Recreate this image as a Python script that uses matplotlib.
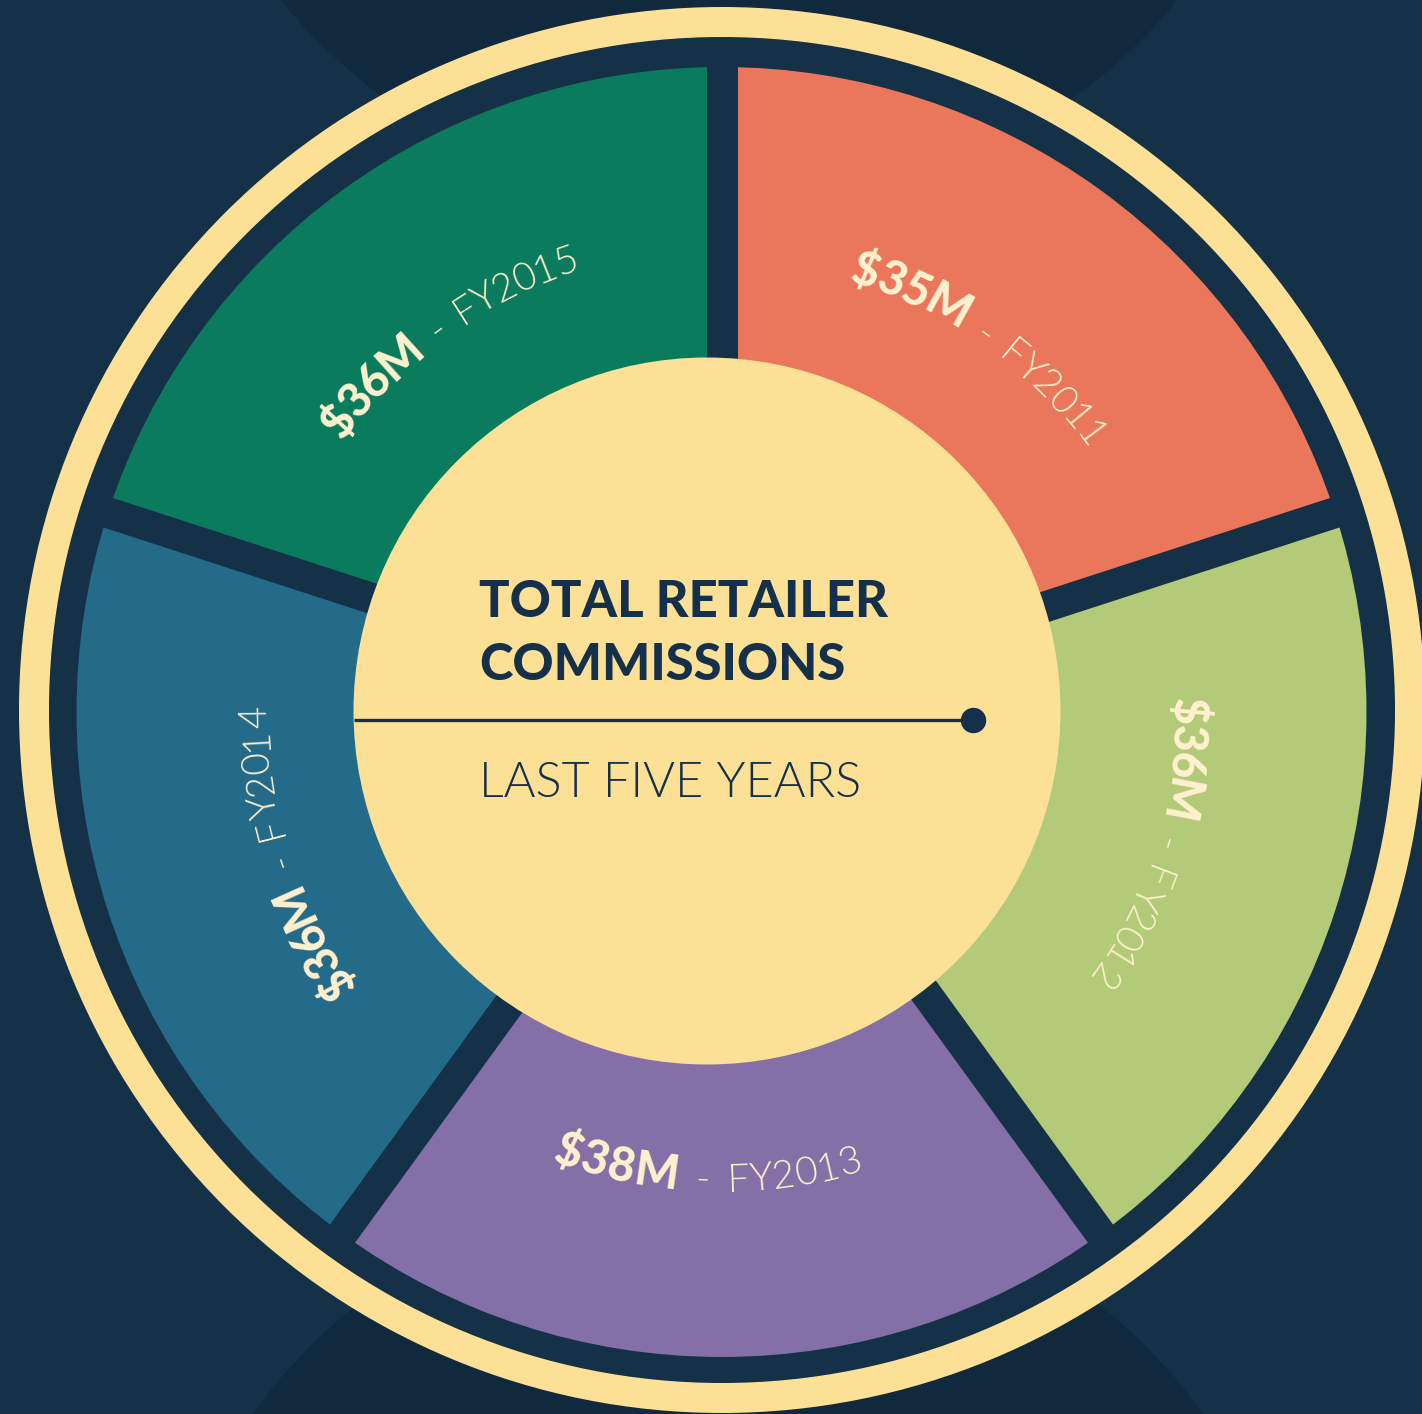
import numpy as np
import matplotlib
matplotlib.use("Agg")
import matplotlib.pyplot as plt
from matplotlib.patches import Circle
from matplotlib.font_manager import FontProperties, findfont, get_font

# ---------------- data ----------------
years = ["FY2011", "FY2012", "FY2013", "FY2014", "FY2015"]
values = [35, 36, 38, 36, 36]          # $M commissions
seg_colors = ["#EA775B", "#B3CA78", "#846FA6", "#246B8A", "#0B7B5E"]
title_lines = ["TOTAL RETAILER", "COMMISSIONS"]
subtitle = "LAST FIVE YEARS"

# ---------------- style ----------------
W, H, DPI = 1422, 1414, 100
BG = "#143148"
BG_DARK = "#10293D"
YEL = "#FCE096"
CREAM = "#FFF1CF"
NAVY = "#15304A"

def Y(y):  # image row -> data y
    return H - y

fig = plt.figure(figsize=(W / DPI, H / DPI), dpi=DPI)
fig.patch.set_facecolor(BG)
ax = fig.add_axes([0, 0, 1, 1])
ax.set_facecolor(BG)

# darker background lenses (top & bottom)
ax.add_patch(Circle((729, Y(-372)), 583, color=BG_DARK, zorder=1, lw=0))
ax.add_patch(Circle((728, Y(1763)), 590, color=BG_DARK, zorder=1, lw=0))

# outer yellow ring
ring_c = (722, Y(710))
ax.add_patch(Circle(ring_c, 703, color=YEL, zorder=2, lw=0))
ax.add_patch(Circle(ring_c, 673, color=BG, zorder=3, lw=0))

# donut segments (equal slices)
seg_c = (721.5, Y(712))
R_SEG = 645
wedges, _ = ax.pie([1] * len(years), colors=seg_colors, startangle=90,
                   counterclock=False, radius=R_SEG, center=seg_c,
                   wedgeprops=dict(linewidth=0))
for w in wedges:
    w.set_zorder(4)

# radial gaps between segments
n = len(years)
gap_px = 31
for i in range(n):
    ang = np.deg2rad(90 - 360.0 / n * i)
    ax.plot([seg_c[0], seg_c[0] + 668 * np.cos(ang)],
            [seg_c[1], seg_c[1] + 668 * np.sin(ang)],
            color=BG, lw=gap_px * 72 / DPI, solid_capstyle="butt", zorder=5)

# inner yellow disc
inner_c = (707, Y(711))
ax.add_patch(Circle(inner_c, 353.5, color=YEL, zorder=6, lw=0))

# centre text
fp_title = FontProperties(family=["Lato", "DejaVu Sans"], weight=900, size=36.5)
fp_sub = FontProperties(family=["Lato", "DejaVu Sans"], weight=300, size=35)
ax.text(479, Y(617), title_lines[0], fontproperties=fp_title, color=NAVY,
        ha="left", va="baseline", zorder=8)
ax.text(479, Y(680), title_lines[1], fontproperties=fp_title, color=NAVY,
        ha="left", va="baseline", zorder=8)
ax.text(479, Y(797), subtitle, fontproperties=fp_sub, color=NAVY,
        ha="left", va="baseline", zorder=8)
ax.plot([354, 973], [Y(720), Y(720)], color=NAVY, lw=3.3 * 72 / DPI,
        solid_capstyle="butt", zorder=7)
ax.plot([973], [Y(720)], "o", color=NAVY, ms=24 * 72 / DPI, zorder=7)

# curved labels
fp_val = FontProperties(family=["Lato", "DejaVu Sans"], weight=900, size=33.5)
fp_year = FontProperties(family=["Lato", "DejaVu Sans"], weight=300, size=28)

def adv(ch, fp):
    f = get_font(findfont(fp))
    f.set_size(fp.get_size_in_points(), 72)
    g = f.load_char(ord(ch))
    return g.linearHoriAdvance / 65536.0 * DPI / 72.0

def arc_label(pieces, mid_deg, r_mid, cw, color):
    chars = []
    pos = 0.0
    for k, (text, fp, gap) in enumerate(pieces):
        for ch in text:
            a = adv(ch, fp)
            chars.append((ch, fp, pos + a / 2))
            pos += a
        if k < len(pieces) - 1:
            pos += gap
    total = pos
    cap = fp_val.get_size_in_points() * DPI / 72 * 0.72
    off = cap / 2
    for ch, fp, c in chars:
        d = c - total / 2
        if cw:
            th = mid_deg - np.rad2deg(d / r_mid)
            rot = th - 90
            rb = r_mid - off
        else:
            th = mid_deg + np.rad2deg(d / r_mid)
            rot = th + 90
            rb = r_mid + off
        t = np.deg2rad(th)
        ax.text(seg_c[0] + rb * np.cos(t), seg_c[1] + rb * np.sin(t), ch,
                fontproperties=fp, rotation=rot, rotation_mode="anchor",
                ha="center", va="baseline", color=color, zorder=9)

label_shift = [0.5, 0.8, -1.7, 0.0, 0.0]   # small angular nudges (deg)
label_r = [466, 468, 463, 472, 482]
for i, (yr, v) in enumerate(zip(years, values)):
    mid = 90 - 360.0 / n * (i + 0.5) + label_shift[i]
    cw = not (-135 < mid < -45)
    pieces = [(f"${v}M", fp_val, 17), ("-", fp_year, 17), (yr, fp_year, 0)]
    arc_label(pieces, mid, label_r[i], cw, CREAM)

ax.set_xlim(0, W)
ax.set_ylim(0, H)
ax.set_aspect("auto")
ax.axis("off")
fig.savefig("out.png", dpi=DPI, facecolor=BG)
